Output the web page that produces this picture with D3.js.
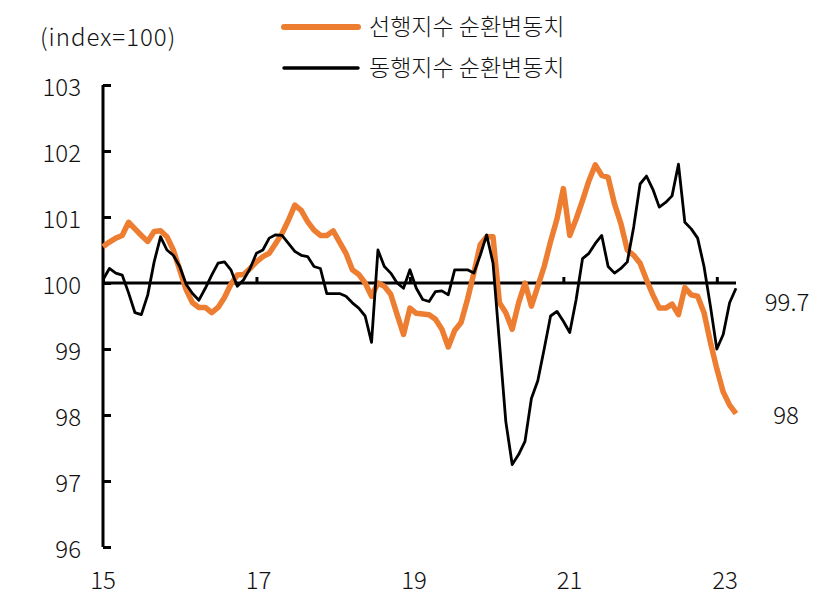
<!DOCTYPE html>
<html><head><meta charset="utf-8">
<script src="https://cdn.jsdelivr.net/npm/d3@7"></script>
<style>
html,body{margin:0;padding:0;background:#fff;}
svg text{font-family:"Noto Sans CJK KR","Noto Sans",sans-serif;fill:#111;font-weight:300;}
</style></head>
<body><svg id="c" width="838" height="611"></svg>
<script>
// ---- data ----
const startYear = 2015;
const seriesNames = ["선행지수 순환변동치", "동행지수 순환변동치"];
const leading = [100.55,100.62,100.68,100.72,100.92,100.82,100.72,100.63,100.78,100.79,
 100.7,100.5,100.2,99.9,99.7,99.63,99.63,99.55,99.63,99.78,
 99.98,100.12,100.13,100.22,100.32,100.4,100.45,100.6,100.75,100.95,
 101.18,101.1,100.93,100.8,100.72,100.72,100.79,100.62,100.45,100.2,
 100.13,100.0,99.8,100.0,99.95,99.83,99.52,99.22,99.62,99.54,
 99.53,99.52,99.45,99.3,99.03,99.28,99.4,99.75,100.15,100.58,
 100.7,100.7,99.7,99.55,99.3,99.7,100.0,99.65,99.95,100.25,
 100.63,100.97,101.43,100.72,100.97,101.25,101.55,101.79,101.63,101.6,
 101.2,100.9,100.5,100.42,100.3,100.05,99.82,99.62,99.62,99.68,
 99.52,99.93,99.82,99.8,99.55,99.1,98.7,98.35,98.15,98.02];
const coincident = [100.05,100.22,100.15,100.12,99.85,99.55,99.52,99.82,100.32,100.7,
 100.5,100.42,100.25,99.98,99.84,99.74,99.92,100.12,100.3,100.32,
 100.2,99.95,100.05,100.22,100.45,100.5,100.68,100.73,100.72,100.6,
 100.48,100.42,100.4,100.25,100.22,99.84,99.84,99.84,99.8,99.7,
 99.62,99.5,99.1,100.5,100.25,100.15,100.0,99.92,100.2,99.92,
 99.75,99.72,99.87,99.88,99.82,100.2,100.2,100.2,100.15,100.42,
 100.73,100.3,99.1,97.9,97.25,97.4,97.6,98.25,98.52,99.0,
 99.5,99.57,99.42,99.25,99.75,100.37,100.45,100.6,100.72,100.25,
 100.15,100.22,100.32,100.85,101.5,101.62,101.42,101.15,101.22,101.32,
 101.8,100.92,100.82,100.68,100.25,99.65,99.0,99.22,99.7,99.92];
const months = leading.map((_, i) => `${startYear + Math.floor(i / 12)}-${String(i % 12 + 1).padStart(2, "0")}`);
const xLabels = ["15", "17", "19", "21", "23"];
const xTickMonths = [0, 24, 48, 72, 96];
const yTicks = [96, 97, 98, 99, 100, 101, 102, 103];
const endLabels = ["99.7", "98"];
const unitLabel = "(index=100)";

// ---- drawing ----
const svg = d3.select("#c");
const orange = "#ED7D31";
const x = d3.scaleLinear().domain([0, months.length - 1]).range([103, 736]);
const xl = d3.scalePoint().domain(xLabels).range([103, 725]);
const y = d3.scaleLinear().domain([96, 103]).range([547, 85]);

// unit
svg.append("text").attr("x", 40).attr("y", 35).attr("dominant-baseline", "central")
  .attr("font-size", 24).attr("letter-spacing", 1).text(unitLabel);

// y axis
const yAxis = d3.axisRight(y).tickValues(yTicks).tickSize(8).tickFormat("");
const gy = svg.append("g").attr("transform", "translate(103,0)").call(yAxis);
gy.select(".domain").attr("stroke", "#000").attr("stroke-width", 3).attr("d", `M0,${y(96)}V${y(103)}`);
gy.selectAll(".tick line").attr("stroke", "#000").attr("stroke-width", 3);
svg.append("g").selectAll("text").data(yTicks).join("text")
  .attr("x", 81).attr("y", d => y(d)).attr("text-anchor", "end")
  .attr("dominant-baseline", "central").attr("font-size", 24).text(d => d);

// x labels
svg.append("g").selectAll("text").data(xLabels).join("text")
  .attr("x", d => xl(d)).attr("y", 578).attr("text-anchor", "middle")
  .attr("dominant-baseline", "central").attr("font-size", 24).text(d => d);

// 100 baseline with ticks
const xAxis = d3.axisTop(x).tickValues(xTickMonths).tickSize(6).tickFormat("");
const gx = svg.append("g").attr("transform", `translate(0,${y(100)})`).call(xAxis);
gx.select(".domain").attr("stroke", "#000").attr("stroke-width", 3).attr("d", `M${x(0)},0H${x(months.length - 1)}`);
gx.selectAll(".tick line").attr("stroke", "#000").attr("stroke-width", 3);

// lines
const line = d3.line().x((d, i) => x(i)).y(d => y(d));
svg.append("path").datum(leading).attr("d", line).attr("fill", "none")
  .attr("stroke", orange).attr("stroke-width", 5.5).attr("stroke-linejoin", "round");
svg.append("path").datum(coincident).attr("d", line).attr("fill", "none")
  .attr("stroke", "#000").attr("stroke-width", 2.8).attr("stroke-linejoin", "round");

// end labels
svg.append("text").attr("x", 787).attr("y", 300).attr("text-anchor", "middle")
  .attr("dominant-baseline", "central").attr("font-size", 24).text(endLabels[0]);
svg.append("text").attr("x", 786).attr("y", 413).attr("text-anchor", "middle")
  .attr("dominant-baseline", "central").attr("font-size", 24).text(endLabels[1]);

// legend
const leg = [{name: seriesNames[0], color: orange, w: 6, yy: 27}, {name: seriesNames[1], color: "#000", w: 3.5, yy: 68}];
const lg = svg.append("g");
lg.selectAll("line").data(leg).join("line")
  .attr("x1", 284).attr("x2", 358).attr("y1", d => d.yy).attr("y2", d => d.yy)
  .attr("stroke", d => d.color).attr("stroke-width", d => d.w).attr("stroke-linecap", "round");
lg.selectAll("text").data(leg).join("text")
  .attr("x", 369).attr("y", d => d.yy - 2).attr("dominant-baseline", "central")
  .attr("font-size", 23).text(d => d.name);
</script></body></html>
